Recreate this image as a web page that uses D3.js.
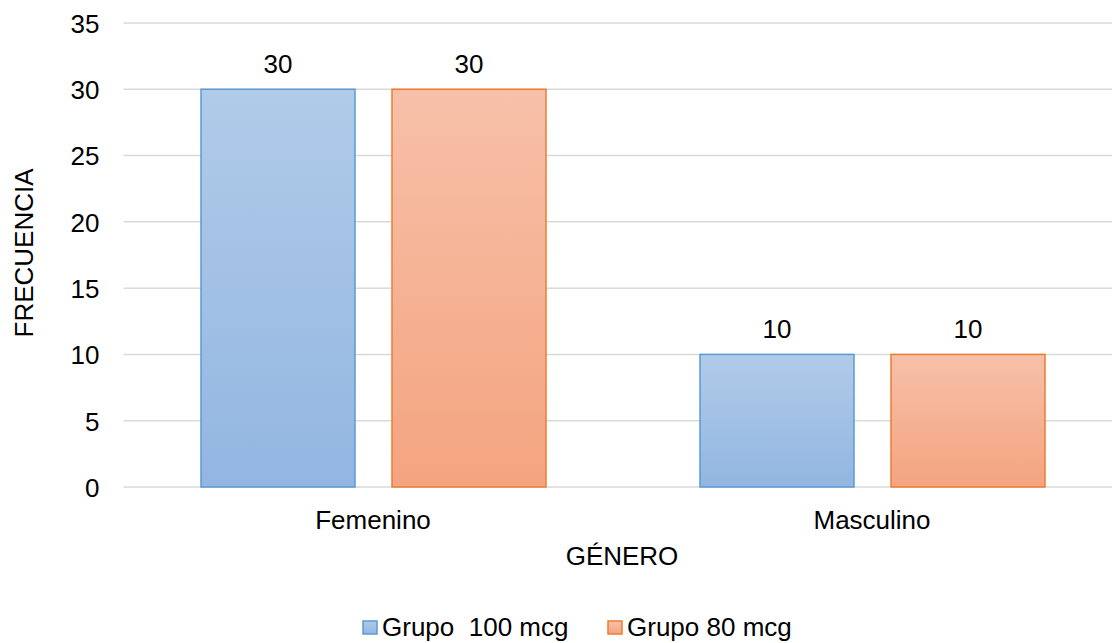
<!DOCTYPE html>
<html lang="es">
<head>
  <meta charset="utf-8"/>
  <title>Frecuencia por género</title>
  <script src="https://cdn.jsdelivr.net/npm/d3@7/dist/d3.min.js"></script>
  <style>
    html, body { margin:0; padding:0; background:#fff; overflow:hidden; }
    svg { display:block; font-family:"Liberation Sans", Arial, sans-serif; }
    .grid line { stroke:#d9d9d9; stroke-width:1.5; }
    .tick text { fill:#000; font-size:26px; font-family:"Liberation Sans", Arial, sans-serif; }
  </style>
</head>
<body>
<svg width="1112" height="643"></svg>
<script>
  // datos
  const categories = ["Femenino", "Masculino"];
  const seriesNames = ["Grupo  100 mcg", "Grupo 80 mcg"];
  const grupo100 = [30, 10];
  const grupo80  = [30, 10];
  const yTicks   = [0, 5, 10, 15, 20, 25, 30, 35];

  const W = 1112, H = 643;
  const FS = 26;
  const svg = d3.select("svg");

  const plotL = 123.5, plotR = 1121.5, plotT = 23, plotB = 487;

  const x = d3.scaleBand().domain(categories).range([plotL, plotR]).paddingInner(0).paddingOuter(0);
  const xs = d3.scaleBand().domain([0, 1]).range([77.5, 77.5 + 154*2 + 37]).paddingInner(37/191).paddingOuter(0);
  const y = d3.scaleLinear().domain([0, 35]).range([plotB, plotT]);

  // gradientes
  const defs = svg.append("defs");
  const fills = [
    { id:"gBlue", top:"#b1cbe9", bot:"#92b6e1", stroke:"#5b9bd5" },
    { id:"gOrange", top:"#f7c0a9", bot:"#f4a47f", stroke:"#ed7d31" }
  ];
  fills.forEach(f => {
    const g = defs.append("linearGradient").attr("id", f.id)
      .attr("x1",0).attr("y1",0).attr("x2",0).attr("y2",1);
    g.append("stop").attr("offset","0%").attr("stop-color", f.top);
    g.append("stop").attr("offset","100%").attr("stop-color", f.bot);
  });

  // grid
  svg.append("g").attr("class","grid")
    .selectAll("line").data(yTicks).join("line")
      .attr("x1", plotL).attr("x2", W)
      .attr("y1", d => y(d)).attr("y2", d => y(d));

  // eje y
  const yAxis = svg.append("g")
    .attr("transform", `translate(${plotL - 24},0)`)
    .call(d3.axisLeft(y).tickValues(yTicks).tickSize(0).tickPadding(0));
  yAxis.select(".domain").remove();
  yAxis.selectAll("text").attr("dy", "0.36em");

  // barras
  const series = [grupo100, grupo80];
  series.forEach((vals, si) => {
    const f = fills[si];
    svg.append("g").selectAll("rect").data(vals).join("rect")
      .attr("x", (d, i) => x(categories[i]) + xs(si))
      .attr("width", xs.bandwidth())
      .attr("y", d => y(d))
      .attr("height", d => y(0) - y(d))
      .attr("fill", `url(#${f.id})`)
      .attr("stroke", f.stroke)
      .attr("stroke-width", 1.5);

    svg.append("g").selectAll("text").data(vals).join("text")
      .attr("x", (d, i) => x(categories[i]) + xs(si) + xs.bandwidth()/2)
      .attr("y", d => y(d) - 16)
      .attr("text-anchor", "middle")
      .attr("font-size", FS)
      .text(d => d);
  });

  // eje x
  svg.append("g").selectAll("text").data(categories).join("text")
    .attr("x", d => x(d) + x.bandwidth()/2)
    .attr("y", 529)
    .attr("text-anchor", "middle")
    .attr("font-size", FS)
    .text(d => d);

  // títulos
  svg.append("text")
    .attr("x", 622).attr("y", 565)
    .attr("text-anchor", "middle").attr("font-size", FS)
    .text("GÉNERO");
  svg.append("text")
    .attr("transform", "translate(33,253) rotate(-90)")
    .attr("text-anchor", "middle").attr("font-size", FS)
    .text("FRECUENCIA");

  // leyenda
  const legend = svg.append("g");
  const legX = [363, 608];
  seriesNames.forEach((n, i) => {
    const f = fills[i];
    legend.append("rect")
      .attr("x", legX[i]).attr("y", 621)
      .attr("width", 14).attr("height", 13)
      .attr("fill", `url(#${f.id})`).attr("stroke", f.stroke).attr("stroke-width", 1.5);
    legend.append("text")
      .attr("x", legX[i] + 19).attr("y", 636)
      .attr("font-size", FS)
      .style("white-space", "pre")
      .text(n);
  });
</script>
</body>
</html>
